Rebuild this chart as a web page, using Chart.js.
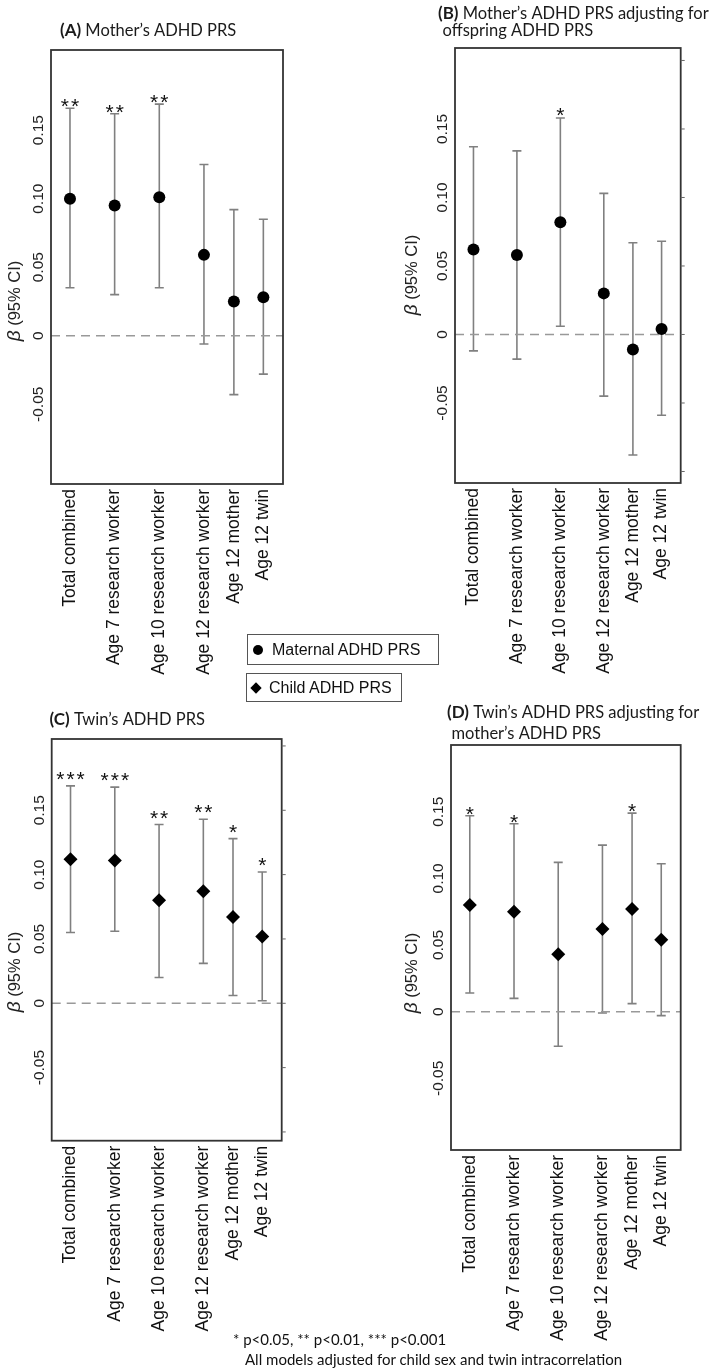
<!DOCTYPE html>
<html>
<head>
<meta charset="utf-8">
<script src="https://cdn.jsdelivr.net/npm/chart.js@4.4.0/dist/chart.umd.min.js"></script>
<style>
  html, body { margin: 0; padding: 0; background: #fff; }
  body { width: 709px; height: 1369px; position: relative; overflow: hidden; font-family: "Liberation Sans", Arial, sans-serif; }
  canvas { position: absolute; }
  .lg { position: absolute; border: 1px solid #555; box-sizing: border-box; color: #111; font-size: 16px; }
  .lg .txt { position: absolute; top: 0; white-space: nowrap; }
  .dot { position: absolute; width: 10px; height: 10px; border-radius: 50%; background: #000; }
  .dia { position: absolute; width: 8px; height: 8px; background: #000; transform: rotate(45deg); }
  .note { position: absolute; font-family: Lato, "Open Sans", sans-serif; font-size: 15px; line-height: 15px; color: #111; white-space: nowrap; }
</style>
</head>
<body>
<canvas id="panelA"></canvas>
<canvas id="panelB"></canvas>
<canvas id="panelC"></canvas>
<canvas id="panelD"></canvas>

<div class="lg" style="left:247px;top:634px;width:192px;height:31px;line-height:29px;">
  <span class="dot" style="left:5px;top:10px;"></span><span class="txt" style="left:24px;">Maternal ADHD PRS</span>
</div>
<div class="lg" style="left:246px;top:673px;width:156px;height:29px;line-height:27px;">
  <span class="dia" style="left:5px;top:10px;"></span><span class="txt" style="left:22px;">Child ADHD PRS</span>
</div>

<div class="note" style="left:233px;top:1332px;">* p&lt;0.05, ** p&lt;0.01, *** p&lt;0.001</div>
<div class="note" style="left:245px;top:1352px;">All models adjusted for child sex and twin intracorrelation</div>

<script>
const categories = ['Total combined', 'Age 7 research worker', 'Age 10 research worker',
  'Age 12 research worker', 'Age 12 mother', 'Age 12 twin'];
const tickValues = [-0.05, 0, 0.05, 0.10, 0.15];
const tickLabels = ['-0.05', '0', '0.05', '0.10', '0.15'];

// (A) mother's ADHD PRS
const motherBeta  = [0.100, 0.095, 0.101, 0.059, 0.025, 0.028];
const motherLower = [0.035, 0.030, 0.035, -0.006, -0.043, -0.028];
const motherUpper = [0.166, 0.162, 0.169, 0.125, 0.092, 0.085];
const motherStars = ['**', '**', '**', '', '', ''];

// (B) mother's PRS adjusting for offspring PRS
const motherAdjBeta  = [0.062, 0.058, 0.082, 0.030, -0.011, 0.004];
const motherAdjLower = [-0.012, -0.018, 0.006, -0.045, -0.088, -0.059];
const motherAdjUpper = [0.137, 0.134, 0.158, 0.103, 0.067, 0.068];
const motherAdjStars = ['', '', '*', '', '', ''];

// (C) twin's ADHD PRS
const twinBeta  = [0.112, 0.111, 0.080, 0.087, 0.067, 0.052];
const twinLower = [0.055, 0.056, 0.020, 0.031, 0.006, 0.002];
const twinUpper = [0.169, 0.168, 0.139, 0.143, 0.128, 0.102];
const twinStars = ['***', '***', '**', '**', '*', '*'];

// (D) twin's PRS adjusting for mother's PRS
const twinAdjBeta  = [0.080, 0.075, 0.043, 0.062, 0.077, 0.054];
const twinAdjLower = [0.014, 0.010, -0.026, -0.001, 0.006, -0.003];
const twinAdjUpper = [0.147, 0.141, 0.112, 0.125, 0.149, 0.111];
const twinAdjStars = ['*', '*', '', '', '*', ''];

// category slots on the x axis (last two are packed closer)
const catSlots = [1, 2, 3, 4, 4.67, 5.33];
const xMin = 0.575, xMax = 5.77;

const panels = [
  { id: 'panelA', left: 0, top: 0, w: 354, h: 700, area: { l: 51, t: 50, r: 283, b: 484 },
    yMin: -0.1082, yMax: 0.2085, starGap: 7, rightTicks: false, marker: 'circle',
    title: [{ x: 60, y: 36, bold: '(A)', text: ' Mother’s ADHD PRS' }], ylab: { x: 15, y: 301 },
    beta: motherBeta, lower: motherLower, upper: motherUpper, stars: motherStars },
  { id: 'panelB', left: 354, top: 0, w: 355, h: 700, area: { l: 101, t: 48, r: 326.7, b: 483 },
    yMin: -0.1084, yMax: 0.2091, starGap: 8, rightTicks: true, marker: 'circle',
    title: [{ x: 84, y: 18.5, bold: '(B)', text: ' Mother’s ADHD PRS adjusting for' },
            { x: 88.5, y: 36, bold: '', text: 'offspring ADHD PRS' }], ylab: { x: 58, y: 275 },
    beta: motherAdjBeta, lower: motherAdjLower, upper: motherAdjUpper, stars: motherAdjStars },
  { id: 'panelC', left: 0, top: 690, w: 354, h: 679, area: { l: 51.7, t: 49, r: 281.7, b: 450.7 },
    yMin: -0.1068, yMax: 0.2054, starGap: 12, rightTicks: true, marker: 'rectRot',
    title: [{ x: 49.5, y: 35, bold: '(C)', text: ' Twin’s ADHD PRS' }], ylab: { x: 15, y: 282 },
    beta: twinBeta, lower: twinLower, upper: twinUpper, stars: twinStars },
  { id: 'panelD', left: 354, top: 690, w: 355, h: 679, area: { l: 97, t: 55, r: 326.7, b: 460 },
    yMin: -0.1038, yMax: 0.2001, starGap: 7, rightTicks: false, marker: 'rectRot',
    title: [{ x: 93, y: 27.5, bold: '(D)', text: ' Twin’s ADHD PRS adjusting for' },
            { x: 97.5, y: 49, bold: '', text: 'mother’s ADHD PRS' }], ylab: { x: 58, y: 283 },
    beta: twinAdjBeta, lower: twinAdjLower, upper: twinAdjUpper, stars: twinAdjStars }
];

const titleFont = 'Lato, "Open Sans", sans-serif';
const axisFont = '"Liberation Sans", Arial, sans-serif';

function decor(panel) {
  return {
    id: 'decor' + panel.id,
    beforeDatasetsDraw(chart) {
      const ctx = chart.ctx, xs = chart.scales.x, ys = chart.scales.y;
      ctx.save();
      ctx.strokeStyle = '#808080';
      ctx.lineWidth = 1.6;
      panel.lower.forEach((lo, i) => {
        const x = xs.getPixelForValue(catSlots[i]);
        const yl = ys.getPixelForValue(lo);
        const yu = ys.getPixelForValue(panel.upper[i]);
        ctx.beginPath();
        ctx.moveTo(x, yl); ctx.lineTo(x, yu);
        ctx.moveTo(x - 4.5, yl); ctx.lineTo(x + 4.5, yl);
        ctx.moveTo(x - 4.5, yu); ctx.lineTo(x + 4.5, yu);
        ctx.stroke();
      });
      ctx.restore();
    },
    afterDraw(chart) {
      const ctx = chart.ctx, xs = chart.scales.x, ys = chart.scales.y, a = chart.chartArea;
      ctx.save();
      // plot box
      ctx.strokeStyle = '#333';
      ctx.lineWidth = 1.8;
      ctx.strokeRect(a.left, a.top, a.right - a.left, a.bottom - a.top);

      if (panel.rightTicks) {
        ctx.strokeStyle = '#666';
        ctx.lineWidth = 1;
        [-0.1, -0.05, 0, 0.05, 0.1, 0.15, 0.2].forEach(v => {
          const y = ys.getPixelForValue(v);
          ctx.beginPath(); ctx.moveTo(a.right, y); ctx.lineTo(a.right + 4, y); ctx.stroke();
        });
      }

      // y tick labels, rotated like base R
      ctx.fillStyle = '#222';
      ctx.font = '15.5px ' + axisFont;
      ctx.textAlign = 'center';
      ctx.textBaseline = 'middle';
      ys.ticks.forEach((t, i) => {
        const y = ys.getPixelForValue(t.value);
        ctx.save();
        ctx.translate(a.left - 12, y);
        ctx.rotate(-Math.PI / 2);
        ctx.fillText(tickLabels[i], 0, 0);
        ctx.restore();
      });

      // y axis title
      ctx.save();
      ctx.translate(panel.ylab.x, panel.ylab.y);
      ctx.rotate(-Math.PI / 2);
      ctx.textAlign = 'left';
      ctx.textBaseline = 'middle';
      ctx.fillStyle = '#222';
      const fBeta = 'italic 19px ' + axisFont, fRest = '16.5px ' + axisFont;
      ctx.font = fBeta; const wB = ctx.measureText('β').width;
      ctx.font = fRest; const wR = ctx.measureText(' (95% CI)').width;
      const x0 = -(wB + wR) / 2;
      ctx.font = fBeta; ctx.fillText('β', x0, 0);
      ctx.font = fRest; ctx.fillText(' (95% CI)', x0 + wB, 0);
      ctx.restore();

      // significance stars
      ctx.fillStyle = '#111';
      ctx.font = '21px ' + axisFont;
      ctx.textAlign = 'left';
      ctx.textBaseline = 'alphabetic';
      ctx.letterSpacing = '2px';
      panel.stars.forEach((s, i) => {
        if (!s) return;
        const x = xs.getPixelForValue(catSlots[i]);
        const w = ctx.measureText(s).width - 2;
        const y = ys.getPixelForValue(panel.upper[i]) - panel.starGap + 12.2;
        ctx.fillText(s, x - w / 2, y);
      });
      ctx.letterSpacing = '0px';

      // panel title
      ctx.textAlign = 'left';
      ctx.fillStyle = '#1a1a1a';
      panel.title.forEach(line => {
        let x = line.x;
        if (line.bold) {
          ctx.font = 'bold 17px ' + titleFont;
          ctx.fillText(line.bold, x, line.y);
          x += ctx.measureText(line.bold).width;
        }
        ctx.font = '16.5px ' + titleFont;
        ctx.fillText(line.text, x, line.y);
      });
      ctx.restore();
    }
  };
}

panels.forEach(p => {
  const canvas = document.getElementById(p.id);
  canvas.width = p.w;
  canvas.height = p.h;
  canvas.style.left = p.left + 'px';
  canvas.style.top = p.top + 'px';
  canvas.style.width = p.w + 'px';
  canvas.style.height = p.h + 'px';

  new Chart(canvas, {
    type: 'scatter',
    data: {
      datasets: [
        {
          data: p.beta.map((b, i) => ({ x: catSlots[i], y: b })),
          pointStyle: p.marker,
          pointRadius: p.marker === 'circle' ? 6 : 7,
          backgroundColor: '#000',
          borderColor: '#000',
          borderWidth: 0,
          order: 0
        },
        {
          type: 'line',
          data: [{ x: xMin, y: 0 }, { x: xMax, y: 0 }],
          borderColor: '#999',
          borderWidth: 1.5,
          borderDash: [9, 6],
          pointRadius: 0,
          order: 1
        }
      ]
    },
    options: {
      responsive: false,
      animation: false,
      devicePixelRatio: 1,
      layout: { padding: { top: p.area.t, right: p.w - p.area.r, left: 0, bottom: 0 } },
      plugins: { legend: { display: false }, tooltip: { enabled: false } },
      scales: {
        x: {
          type: 'linear',
          min: xMin,
          max: xMax,
          afterBuildTicks: ax => { ax.ticks = catSlots.map(v => ({ value: v })); },
          afterFit: ax => { ax.height = p.h - p.area.b; },
          grid: { display: false, drawTicks: false },
          border: { display: false },
          ticks: {
            autoSkip: false,
            minRotation: 90,
            maxRotation: 90,
            padding: 5,
            color: '#111',
            font: { family: axisFont, size: 17.5 },
            callback: (v, i) => categories[i]
          }
        },
        y: {
          min: p.yMin,
          max: p.yMax,
          afterBuildTicks: ax => { ax.ticks = tickValues.map(v => ({ value: v })); },
          afterFit: ax => { ax.width = p.area.l; },
          grid: { display: false },
          border: { display: false },
          ticks: { display: false }
        }
      }
    },
    plugins: [decor(p)]
  });
});
</script>
</body>
</html>
